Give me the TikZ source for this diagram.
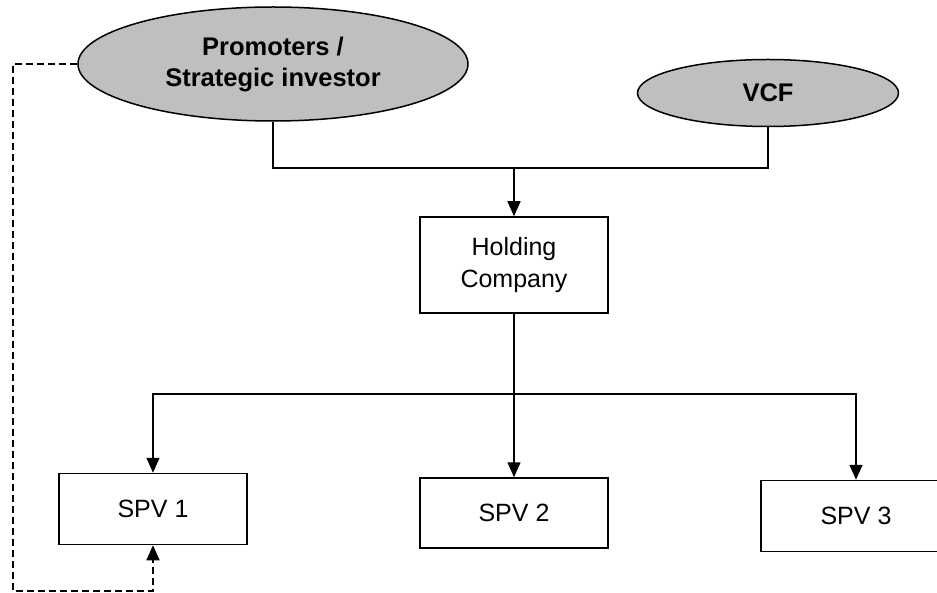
\documentclass[tikz,border=0pt]{standalone}
\usepackage{fontspec}
\setmainfont{Liberation Sans}
\usetikzlibrary{shapes.geometric,arrows.meta}

\begin{document}
\begin{tikzpicture}[x=1pt,y=-1pt,line width=1.5pt,
    investor/.style={ellipse,draw,fill=gray!50,inner sep=0pt,align=center,
      font=\fontsize{25.5}{31}\selectfont\bfseries},
    unitbox/.style={rectangle,draw,fill=white,inner sep=0pt,align=center,
      minimum width=188pt,minimum height=71pt,
      font=\fontsize{25}{32}\selectfont},
    flow/.style={-{Triangle[length=15pt,width=13pt]}},
    backflow/.style={flow,dash pattern=on 7pt off 4pt}]
        \useasboundingbox (0,0) rectangle (937,593) ;
        %\draw[very thin,gray,step=50] (0,0) grid (937,593) ;
        \node[investor,minimum width=390pt,minimum height=114pt] (prom) at (273,64)
          {Promoters /\\Strategic investor} ;
        \node[investor,minimum width=261pt,minimum height=67pt] (vcf) at (768,93) {VCF} ;
        \node[unitbox,minimum height=96pt] (hold) at (514,265) {Holding\\Company} ;
        \node[unitbox] (spv1) at (153,509) {SPV 1} ;
        \node[unitbox,minimum height=70pt] (spv2) at (514,513) {SPV 2} ;
        \node[unitbox,minimum width=190pt] (spv3) at (856,516) {SPV 3} ;
        % joints
        \coordinate (jtop) at (hold.north |- 0,168) ;
        \coordinate (jbar) at (hold.south |- 0,394) ;
        \coordinate (dcorner) at (13,591) ;
        % investors into holding
        \draw (prom.south) |- (jtop) -| (vcf.south) ;
        \draw[flow] (jtop) -- (hold.north) ;
        % holding into spvs
        \draw[flow] (hold.south) -- (spv2.north) ;
        \draw[flow] (jbar) -| (spv1.north) ;
        \draw[flow] (jbar) -| (spv3.north) ;
        % promoter link
        \draw[backflow] (prom.west) -| (dcorner) -| (spv1.south) ;
      \end{tikzpicture}
\end{document}
